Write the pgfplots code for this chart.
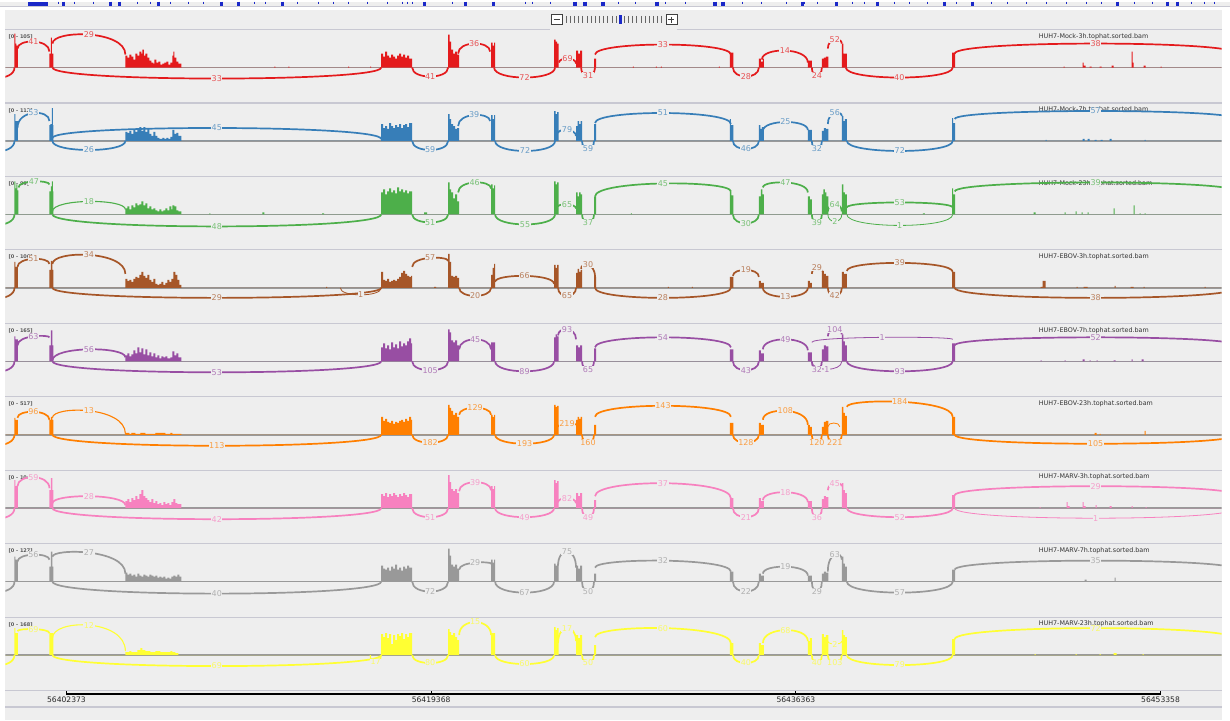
\documentclass[border=0pt]{standalone}
\usepackage{pgfplots}
\pgfplotsset{compat=1.18}
\usepackage{fontspec}
\setmainfont{DejaVu Sans}
\definecolor{bg}{HTML}{EEEEEE}
\definecolor{sepcol}{HTML}{C8C8D2}
\definecolor{basecol}{HTML}{999999}
\definecolor{cRed}{HTML}{E41A1C}
\definecolor{cBlue}{HTML}{377EB8}
\definecolor{cGreen}{HTML}{4DAF4A}
\definecolor{cBrown}{HTML}{A65628}
\definecolor{cPurple}{HTML}{984EA3}
\definecolor{cOrange}{HTML}{FF7F00}
\definecolor{cPink}{HTML}{F781BF}
\definecolor{cGray}{HTML}{999999}
\definecolor{cYellow}{HTML}{FFFF33}
\definecolor{ideo}{HTML}{1A28C8}
\colorlet{tc}{cRed}
\tikzset{
  arcline/.style={draw=tc, line width=1.7pt},
  midarc/.style={draw=tc, line width=1.1pt},
  thinarc/.style={draw=tc, line width=0.8pt},
  arclabel/.style={font=\fontsize{8}{8}\selectfont, text=tc!72!bg, fill=bg, inner sep=0.5pt},
  rangelab/.style={font=\fontsize{5}{5}\selectfont\bfseries, text=black!65, anchor=west, inner sep=0pt},
  namelab/.style={font=\fontsize{6.4}{6.4}\selectfont, text=black!80, anchor=west, inner sep=0pt},
}
\pgfplotsset{track/.style={at={(5pt,-#1pt)}, anchor=north west, scale only axis,
  width=1217pt, height=73.5pt, xmin=5, xmax=1222, ymin=-35.5, ymax=38, hide axis, clip=true}}
% top arc: [style]{x1}{y1}{x2}{y2}{peak}{label}
\newcommand{\tarc}[7][arcline]{%
  \draw[#1] (axis cs:#2,#3) .. controls (axis cs:#2,{(#6-(#3+#5)/8)/0.75}) and (axis cs:#4,{(#6-(#3+#5)/8)/0.75}) .. (axis cs:#4,#5);
  \node[arclabel] at (axis cs:{(#2+#4)/2},#6) {#7};}
% bottom arc: [style]{x1}{x2}{depth}{label}
\newcommand{\barc}[5][arcline]{%
  \draw[#1] (axis cs:#2,0) .. controls (axis cs:#2,{-(#4)/0.75}) and (axis cs:#3,{-(#4)/0.75}) .. (axis cs:#3,0);
  \node[arclabel] at (axis cs:{(#2+#3)/2},-#4) {#5};}
\newcommand{\trackhead}[2]{%
  \draw[basecol, line width=1.6pt] (axis cs:5,0) -- (axis cs:1222,0);
  \node[rangelab] at (axis cs:8,30.5) {#1};
  \node[namelab] at (axis cs:1039,31) {#2};
  \draw[arcline] (axis cs:-22,0) .. controls (axis cs:-22,-14) and (axis cs:14,-14) .. (axis cs:14,0);}
\begin{document}
\begin{tikzpicture}
% ---------------- frame ----------------
\begin{axis}[at={(0,0)}, anchor=north west, scale only axis, width=1230pt, height=719pt,
  xmin=0, xmax=1230, ymin=0, ymax=719, y dir=reverse, hide axis, clip=false]
\fill[white] (axis cs:0,0) rectangle (axis cs:1230,719);
\fill[bg] (axis cs:0,0) rectangle (axis cs:1230,4.2);
\fill[bg] (axis cs:5,8.5) rectangle (axis cs:1222,719);
\draw[sepcol, line width=1pt] (axis cs:0,4.6) -- (axis cs:1230,4.6);
\addplot[ideo, ycomb, line width=0.9pt, mark=none] coordinates {
 (58,2.5)(74,2.5)(93,2.5)(137,2.5)(150,2.5)(170,2.5)(188,2.5)(203,2.5)(254,2.5)(265,2.5)(297,2.5)(318,2.5)(333,2.5)(348,2.5)(367,2.5)(387,2.5)(407,2.5)
 (402,2.5)(412,2.5)(452,2.5)(525,2.5)(532,2.5)(550,2.5)(618,2.5)(635,2.5)(665,2.5)(685,2.5)(743,2.5)(762,2.5)(787,2.5)
 (805,2.5)(818,2.5)(853,2.5)(865,2.5)(895,2.5)(910,2.5)(928,2.5)(957,2.5)(992,2.5)(1008,2.5)(1027,2.5)(1047,2.5)(1067,2.5)(1087,2.5)(1102,2.5)(1135,2.5)(1153,2.5)(1192,2.5)(1205,2.5)(1215,2.5)};
\addplot[ideo, ycomb, line width=3.2pt, mark=none] coordinates {
 (63,4)(110,4)(119,4)(158,4)(221,4)(238,4)(282,4)(424,4)(465,4)(493,4)(575,4)(585,4)(603,4)(657,4)(715,4)(723,4)(803,4)
 (837,4)(878,4)(945,4)(973,4)(1118,4)(1168,4)(1178,4)};
\fill[ideo] (axis cs:28,0) rectangle (axis cs:48,4.2);
% zoom widget
\draw[black!75, fill=white, line width=0.7pt] (axis cs:551,13) rectangle (axis cs:562,23);
\draw[black!75, line width=0.8pt] (axis cs:553.5,18) -- (axis cs:559.5,18);
\draw[black!75, fill=white, line width=0.7pt] (axis cs:666,13) rectangle (axis cs:677,23);
\draw[black!75, line width=0.8pt] (axis cs:668.5,18) -- (axis cs:674.5,18) (axis cs:671.5,15) -- (axis cs:671.5,21);
\addplot[only marks, mark=|, mark size=3.6pt, mark options={draw=black!60, line width=0.8pt}] coordinates {
 (566,18)(570.2,18)(574.4,18)(578.5,18)(582.7,18)(586.9,18)(591,18)(595.2,18)(599.4,18)(603.5,18)(607.7,18)(611.9,18)(616,18)
 (624.4,18)(628.5,18)(632.7,18)(636.9,18)(641,18)(645.2,18)(649.4,18)(653.5,18)(657.7,18)(661.9,18)};
\fill[ideo] (axis cs:618.5,13.5) rectangle (axis cs:621.8,22.5);
% separators
\draw[sepcol, line width=1.1pt] (axis cs:5,28) -- (axis cs:550,28) (axis cs:677,28) -- (axis cs:1222,28);
\draw[sepcol, line width=1.1pt] (axis cs:5,101.5) -- (axis cs:1222,101.5);
\draw[sepcol, line width=1.1pt] (axis cs:5,175) -- (axis cs:1222,175);
\draw[sepcol, line width=1.1pt] (axis cs:5,248.5) -- (axis cs:1222,248.5);
\draw[sepcol, line width=1.1pt] (axis cs:5,322) -- (axis cs:1222,322);
\draw[sepcol, line width=1.1pt] (axis cs:5,395.5) -- (axis cs:1222,395.5);
\draw[sepcol, line width=1.1pt] (axis cs:5,469) -- (axis cs:1222,469);
\draw[sepcol, line width=1.1pt] (axis cs:5,542.5) -- (axis cs:1222,542.5);
\draw[sepcol, line width=1.1pt] (axis cs:5,616) -- (axis cs:1222,616);
\draw[sepcol, line width=1.1pt] (axis cs:5,689) -- (axis cs:1222,689);
\draw[sepcol, line width=1.1pt] (axis cs:5,706) -- (axis cs:1222,706);
\end{axis}
% ---------------- ruler ----------------
\begin{axis}[at={(66pt,-693pt)}, anchor=south west, scale only axis, width=1095pt, height=3.5pt,
  xmin=66, xmax=1161, ymin=0, ymax=1, axis x line*=bottom, axis y line=none,
  x axis line style={-, black, line width=1.1pt}, xtick={66,431,796,1161},
  xticklabels={56402373,56419368,56436363,56453358}, tick align=inside, major tick length=3.5pt,
  xtick style={black, line width=1pt},
  xticklabel style={font=\fontsize{7.6}{7.6}\selectfont, text=black!85, inner sep=0pt, yshift=-2.2pt}]
\end{axis}
% ---------------- track 1 ----------------
\colorlet{tc}{cRed}
\begin{axis}[track=28]
\trackhead{[0 - 105]}{HUH7-Mock-3h.tophat.sorted.bam}
\addplot[const plot, fill=tc, draw=none] coordinates {(5,0)
 (14,34)(15,24)(16,22)(17.5,0)
 (49,14)(50.5,30)(51.5,14)(53,0)
 (125,12)(127,10)(129,13)(131,11)(133,8)(135,14)(137,12)(139,16)(141,14)(142,18)(143.5,12)(145,14)(147,10)(149,7)(151,5)(153,4)(154,8)(156,5)(158,6)(160,3)(162,4)(164,5)(166,6)(168,3)(170,5)(172,12)(173,16)(174,10)(176,6)(178,4)(181,0)
 (274,1)(275,0)(288,1)(289,0)(348,1)(349,0)(370,1)(371,0)
 (381,14)(383,11)(385,16)(387,12)(389,10)(391,13)(393,11)(395,9)(397,12)(399,14)(401,11)(403,13)(405,10)(407,12)(409,9)(412,0)
 (448,33)(449.5,26)(451,18)(453,14)(455,16)(457,13)(459,0)
 (491,25)(492.5,22)(494,25)(495,0)
 (554,28)(555.5,26)(557,24)(558.5,0)
 (576,17)(578,14)(580,17)(582,0)
 (594,9)(596,0)
 (633,1)(634,0)(656,1)(657,0)(661,1)(662,0)(719,1)(720,0)
 (730,15)(733.5,0)
 (759,9)(761,6)(763,9)(764,0)
 (808,7)(812,0)
 (822,9)(824,10)(826,11)(828.5,0)
 (842,24)(843.5,14)(847,0)
 (952.5,15)(955.5,0)
 (1064,1)(1065,0)(1083,5)(1084,2)(1086,0)(1090,1)(1092,0)(1100,1)(1102,0)(1112,2)(1114,0)(1132,16)(1133,5)(1134,0)(1144,2)(1146,0)(1161,1)(1162,0)
 (1222,0)} \closedcycle;
\tarc{17}{19}{49}{16}{26}{41}
\tarc{52}{24}{125}{13}{33}{29}
\tarc{458}{14}{490}{16}{24}{36}
\tarc{559}{5}{576}{4}{9}{69}
\tarc{595}{13}{731}{13}{23}{33}
\tarc{762}{8}{808}{5}{17}{14}
\tarc{828}{19}{842}{24}{28}{52}
\tarc{955}{14}{1237}{14}{24}{38}
\barc{52}{381}{11}{33}
\barc{412}{448}{9}{41}
\barc{494}{555}{10}{72}
\barc{581}{595}{8}{31}
\barc{733}{759}{9}{28}
\barc{812}{822}{8}{24}
\barc{846}{953}{10}{40}
\end{axis}
% ---------------- track 2 ----------------
\colorlet{tc}{cBlue}
\begin{axis}[track=101.5]
\trackhead{[0 - 112]}{HUH7-Mock-7h.tophat.sorted.bam}
\addplot[const plot, fill=tc, draw=none] coordinates {(5,0)
 (14,27)(15,20)(17.5,0)
 (49,16)(50,17)(51.5,33)(52.5,16)(53,0)
 (125,9)(127,8)(129,10)(131,7)(133,11)(135,9)(137,13)(139,14)(141,10)(143,14)(145,9)(147,12)(149,7)(151,5)(153,9)(155,5)(157,3)(159,2)(162,3)(164,2)(166,3)(168,2)(170,4)(172,11)(174,7)(176,8)(178,5)(181,0)
 (381,17)(383,13)(385,15)(387,12)(389,18)(391,15)(393,13)(395,16)(397,14)(399,17)(401,13)(403,16)(405,17)(407,14)(409,18)(412,0)
 (448,27)(449.5,22)(451,17)(453,15)(455,12)(457,13)(459,0)
 (491,26)(492.5,22)(494,26)(495,0)
 (554,30)(555.5,27)(557,29)(558.5,0)
 (576,15)(577.5,20)(579,17)(580.5,20)(582,0)
 (594,17)(596,0)
 (730,22)(731,16)(733.5,0)
 (759,16)(760.5,12)(762,14)(764,0)
 (808,11)(812,0)
 (822,10)(824,13)(826,12)(828.5,0)
 (842,25)(843.5,20)(845,22)(847,0)
 (952.5,23)(953.5,18)(955.5,0)
 (1046,1)(1047,0)(1083,2)(1085,0)(1088,2)(1090,0)(1095,1)(1097,0)(1101,1)(1103,0)(1110,2)(1112,0)(1145,1)(1146,0)
 (1222,0)} \closedcycle;
\tarc{17}{13}{49}{20}{28}{53}
\tarc{52}{3}{381}{2}{13}{45}
\tarc{458}{15}{490}{20}{26}{39}
\tarc{558}{8}{576}{5}{11}{79}
\tarc{595}{18}{731}{17}{28}{51}
\tarc{763}{10}{808}{11}{19}{25}
\tarc{828}{17}{842}{25}{28}{56}
\tarc{955}{22}{1237}{22}{30}{57}
\barc{52}{125}{9}{26}
\barc{412}{448}{9}{59}
\barc{495}{555}{10}{72}
\barc{582}{594}{8}{59}
\barc{733}{759}{8}{46}
\barc{812}{822}{8}{32}
\barc{847}{953}{10}{72}
\end{axis}
% ---------------- track 3 ----------------
\colorlet{tc}{cGreen}
\begin{axis}[track=175]
\trackhead{[0 - 99]}{HUH7-Mock-23h.tophat.sorted.bam}
\addplot[const plot, fill=tc, draw=none] coordinates {(5,0)
 (14,33)(15,26)(16,30)(17,24)(18,0)
 (49,23)(50.5,28)(51.5,33)(52.5,23)(53,0)
 (125,6)(127,8)(129,5)(131,9)(133,7)(135,11)(137,9)(139,10)(141,13)(143,9)(145,11)(147,6)(149,8)(151,5)(153,6)(155,4)(157,3)(159,5)(161,3)(163,4)(165,6)(167,4)(169,8)(171,5)(172,9)(174,8)(176,4)(178,3)(181,0)
 (209,1)(210,0)(262,2)(264,0)(322,1)(324,0)
 (381,22)(383,25)(385,20)(387,23)(389,26)(391,22)(393,24)(395,21)(397,27)(399,23)(401,25)(403,22)(405,24)(407,21)(409,23)(412,0)
 (424,2)(427,0)
 (448,32)(449.5,25)(451,22)(453,16)(455,20)(457,13)(459,0)
 (491,30)(492.5,26)(494,29)(495,0)
 (554,33)(555.5,30)(557,32)(558.5,0)
 (576,22)(577.5,18)(579,22)(580.5,20)(582,0)
 (594,18)(596,0)
 (631,1)(632,0)
 (730,23)(731.5,19)(733.5,0)
 (759,18)(761,25)(762.5,20)(764,0)
 (808,18)(810,15)(812,0)
 (822,20)(823.5,25)(825,22)(826.5,18)(828.5,0)
 (842,30)(843.5,22)(845,20)(847,0)
 (923,1)(925,0)
 (952.5,26)(953.5,20)(955.5,0)
 (1034,2)(1036,0)(1065,2)(1066,0)(1076,3)(1077,0)(1082,2)(1083,0)(1088,2)(1089,0)(1114,6)(1115,0)(1134,9)(1135,0)(1140,1)(1141,0)(1145,1)(1146,0)
 (1222,0)} \closedcycle;
\tarc{18}{27}{49}{30}{33}{47}
\tarc[midarc]{52}{3}{125}{5}{13}{18}
\tarc{458}{22}{491}{26}{32}{46}
\tarc{558}{8}{576}{6}{10}{65}
\tarc{595}{18}{731}{23}{31}{45}
\tarc{763}{27}{808}{22}{32}{47}
\tarc{828}{3}{842}{3}{10}{64}
\tarc{847}{7}{953}{7}{12}{53}
\tarc{955}{23}{1237}{23}{32}{39}
\barc{52}{381}{12}{48}
\barc{412}{448}{8}{51}
\barc{495}{555}{10}{55}
\barc{582}{594}{8}{37}
\barc{733}{759}{9}{30}
\barc{812}{822}{8}{39}
\barc[thinarc]{828}{842}{7}{2}
\barc[thinarc]{847}{953}{11}{1}
\end{axis}
% ---------------- track 4 ----------------
\colorlet{tc}{cBrown}
\begin{axis}[track=248.5]
\trackhead{[0 - 106]}{HUH7-EBOV-3h.tophat.sorted.bam}
\addplot[const plot, fill=tc, draw=none] coordinates {(5,0)
 (14,26)(15,21)(17.5,0)
 (49,18)(50.5,27)(52,18)(53,0)
 (125,9)(127,7)(129,8)(131,6)(133,9)(135,11)(137,10)(139,13)(141,16)(143,12)(145,10)(147,13)(149,8)(151,6)(153,9)(155,4)(157,3)(159,4)(161,6)(163,3)(165,5)(167,8)(169,6)(171,9)(173,16)(175,13)(177,8)(179,3)(181,0)
 (326,1)(327,0)
 (381,16)(383,8)(385,7)(387,9)(389,6)(391,7)(393,8)(395,7)(397,9)(399,11)(401,15)(403,17)(405,14)(407,12)(409,11)(411,12)(412,0)
 (434,1)(436,0)
 (448,34)(449.5,26)(451,12)(453,11)(455,12)(457,10)(459,0)
 (491,13)(492.5,20)(494,24)(495,0)
 (554,23)(555.5,20)(557,23)(558.5,0)
 (576,15)(577.5,19)(579,16)(580.5,18)(582,0)
 (594,11)(596,0)
 (668,1)(669,0)(692,1)(693,0)
 (730,11)(733.5,0)
 (759,7)(761,5)(764,0)
 (808,7)(810,5)(812,0)
 (822,17)(824,14)(826,12)(828.5,0)
 (842,16)(844,14)(847,0)
 (952.5,16)(955.5,0)
 (1041,1)(1043,7)(1046,0)(1077,1)(1078,0)(1084,1)(1088,0)(1115,2)(1116,0)(1131,1)(1134,0)(1144,1)(1145,0)(1205,1)(1206,0)
 (1222,0)} \closedcycle;
\tarc{17}{21}{49}{24}{29}{51}
\tarc{52}{24}{125}{14}{33}{34}
\tarc{412}{21}{448}{27}{30}{57}
\tarc{495}{6}{554}{4}{12}{66}
\tarc{581}{19}{595}{11}{23}{30}
\tarc{733}{12}{759}{11}{18}{19}
\tarc{812}{14}{822}{17}{20}{29}
\tarc{847}{17}{953}{16}{25}{39}
\barc{52}{381}{10}{29}
\barc[thinarc]{340}{381}{7}{1}
\barc{459}{491}{8}{20}
\barc{558}{576}{8}{65}
\barc{595}{731}{10}{28}
\barc{763}{808}{9}{13}
\barc{828}{842}{8}{42}
\barc{955}{1237}{10}{38}
\end{axis}
% ---------------- track 5 ----------------
\colorlet{tc}{cPurple}
\begin{axis}[track=322]
\trackhead{[0 - 165]}{HUH7-EBOV-7h.tophat.sorted.bam}
\addplot[const plot, fill=tc, draw=none] coordinates {(5,0)
 (14,25)(15,22)(17.5,0)
 (49,16)(50.5,31)(52,16)(53,0)
 (125,6)(127,8)(129,5)(131,7)(133,11)(135,8)(137,14)(139,9)(141,13)(143,7)(145,12)(147,6)(149,9)(151,5)(153,8)(155,4)(157,6)(159,3)(161,5)(163,4)(165,5)(167,3)(170,4)(172,10)(174,6)(176,8)(178,4)(181,0)
 (381,14)(383,18)(385,13)(387,16)(389,12)(391,19)(393,14)(395,17)(397,13)(399,20)(401,15)(403,18)(405,16)(407,20)(409,23)(411,18)(412,0)
 (448,32)(449.5,29)(451,21)(453,19)(455,21)(457,16)(459,0)
 (491,19)(495,0)
 (554,24)(555.5,27)(557,25)(558.5,0)
 (576,16)(578,14)(580,16)(582,0)
 (594,13)(596,0)
 (730,12)(733.5,0)
 (759,11)(761,8)(764,0)
 (808,9)(812,0)
 (822,12)(824,16)(826,15)(828.5,0)
 (842,27)(843.5,20)(845,16)(847,0)
 (952.5,18)(955.5,0)
 (1041,1)(1042,0)(1065,1)(1066,0)(1083,2)(1085,0)(1090,1)(1091,0)(1097,1)(1098,0)(1114,1)(1116,0)(1132,2)(1133,0)(1142,2)(1144,0)
 (1222,0)} \closedcycle;
\tarc{17}{16}{49}{24}{25}{63}
\tarc{52}{1}{125}{4}{12}{56}
\tarc{459}{12}{491}{12}{22}{45}
\tarc{558}{26}{576}{22}{32}{93}
\tarc{595}{14}{731}{14}{24}{54}
\tarc{763}{12}{808}{11}{22}{49}
\tarc[thinarc]{812}{19}{953}{22}{24}{1}
\tarc{828}{25}{842}{27}{32}{104}
\tarc{955}{16}{1237}{16}{24}{52}
\barc{52}{381}{11}{53}
\barc{412}{448}{9}{105}
\barc{495}{554}{10}{89}
\barc{582}{594}{8}{65}
\barc{733}{759}{9}{43}
\barc[thinarc]{812}{842}{8}{1}
\barc{812}{822}{8}{32}
\barc{847}{953}{10}{93}
\end{axis}
% ---------------- track 6 ----------------
\colorlet{tc}{cOrange}
\begin{axis}[track=395.5]
\trackhead{[0 - 517]}{HUH7-EBOV-23h.tophat.sorted.bam}
\addplot[const plot, fill=tc, draw=none] coordinates {(5,0)
 (14,17)(15,15)(17.5,0)
 (49,15)(50.5,18)(52,15)(53,0)
 (125,2)(129,1)(131,2)(135,1)(140,2)(145,1)(150,1)(155,2)(165,1)(170,2)(172,1)(175,1)(181,0)
 (381,18)(383,14)(385,16)(387,13)(389,12)(391,14)(393,11)(395,13)(397,12)(399,14)(401,15)(403,13)(405,16)(407,14)(409,18)(411,15)(412,0)
 (448,30)(449.5,27)(451,24)(453,20)(455,22)(457,18)(459,0)
 (491,20)(492.5,18)(494,20)(495,0)
 (554,30)(555.5,28)(557,29)(558.5,0)
 (576,15)(577.5,18)(579,16)(580.5,18)(582,0)
 (594,10)(596,0)
 (730,12)(733.5,0)
 (759,12)(761,10)(764,0)
 (808,10)(810,8)(812,0)
 (822,8)(824,13)(826,14)(828.5,0)
 (842,28)(843.5,22)(845,19)(847,0)
 (952.5,18)(955.5,0)
 (1095,2)(1097,0)(1100,1)(1101,0)(1145,4)(1146,0)
 (1222,0)} \closedcycle;
\tarc{17}{17}{49}{15}{23}{96}
\tarc[midarc]{52}{17}{125}{1}{24}{13}
\tarc{459}{20}{491}{20}{27}{129}
\tarc{558}{8}{576}{10}{11}{219}
\tarc{595}{18}{731}{18}{29}{143}
\tarc{763}{15}{808}{10}{24}{108}
\draw[thinarc] (axis cs:828,8) .. controls (axis cs:828,13) and (axis cs:840,13) .. (axis cs:840,8);
\tarc{847}{28}{953}{18}{33}{184}
\barc{52}{381}{11}{113}
\barc{412}{448}{8}{182}
\barc{495}{554}{9}{193}
\barc{582}{594}{8}{160}
\barc{733}{759}{8}{128}
\barc{812}{822}{8}{120}
\barc{828}{842}{8}{221}
\barc{955}{1237}{9}{105}
\end{axis}
% ---------------- track 7 ----------------
\colorlet{tc}{cPink}
\begin{axis}[track=469]
\trackhead{[0 - 104]}{HUH7-MARV-3h.tophat.sorted.bam}
\addplot[const plot, fill=tc, draw=none] coordinates {(5,0)
 (14,28)(15,22)(17.5,0)
 (49,18)(50.5,30)(52,18)(53,0)
 (125,7)(127,9)(129,6)(131,10)(133,8)(135,12)(137,9)(139,14)(141,18)(143,12)(145,10)(147,8)(149,6)(151,9)(153,5)(155,7)(157,4)(159,5)(161,3)(163,6)(165,4)(167,5)(169,3)(171,6)(173,9)(175,5)(177,4)(181,0)
 (381,14)(383,12)(385,15)(387,11)(389,14)(391,12)(393,15)(395,13)(397,11)(399,14)(401,12)(403,15)(405,13)(407,11)(409,14)(412,0)
 (448,33)(449.5,26)(451,19)(453,17)(455,19)(457,15)(459,0)
 (491,22)(492.5,19)(494,22)(495,0)
 (554,28)(555.5,25)(557,27)(558.5,0)
 (576,15)(578,12)(580,15)(582,0)
 (594,8)(596,0)
 (730,10)(733.5,0)
 (759,10)(761,7)(764,0)
 (808,7)(812,0)
 (822,9)(824,12)(826,11)(828.5,0)
 (842,25)(843.5,18)(845,15)(847,0)
 (952.5,13)(955.5,0)
 (1040,1)(1041,0)(1067,6)(1068,2)(1070,0)(1083,6)(1084,2)(1086,0)(1096,3)(1097,0)(1110,2)(1112,0)(1132,2)(1133,0)(1146,1)(1147,0)
 (1222,0)} \closedcycle;
\tarc{17}{22}{49}{20}{31}{59}
\tarc{52}{5}{125}{3}{12}{28}
\tarc{459}{17}{491}{18}{26}{39}
\tarc{558}{6}{576}{5}{10}{82}
\tarc{595}{12}{731}{10}{25}{37}
\tarc{763}{8}{808}{6}{16}{18}
\tarc{828}{18}{842}{22}{25}{45}
\tarc{955}{13}{1237}{13}{22}{29}
\barc{52}{381}{11}{42}
\barc{412}{448}{9}{51}
\barc{495}{554}{9}{49}
\barc{582}{594}{9}{49}
\barc{733}{759}{9}{21}
\barc{812}{822}{9}{36}
\barc{847}{953}{9}{52}
\barc[thinarc]{955}{1237}{10}{1}
\end{axis}
% ---------------- track 8 ----------------
\colorlet{tc}{cGray}
\begin{axis}[track=542.5]
\trackhead{[0 - 127]}{HUH7-MARV-7h.tophat.sorted.bam}
\addplot[const plot, fill=tc, draw=none] coordinates {(5,0)
 (14,25)(15,22)(17.5,0)
 (49,15)(50.5,30)(52,15)(53,0)
 (125,9)(127,7)(129,8)(131,6)(133,7)(135,5)(137,8)(139,6)(141,5)(143,7)(145,6)(147,5)(149,7)(151,6)(153,5)(155,6)(157,4)(159,5)(161,4)(163,5)(165,3)(167,4)(169,3)(171,5)(173,6)(175,5)(177,7)(179,5)(181,0)
 (381,16)(383,13)(385,12)(387,14)(389,11)(391,15)(393,13)(395,17)(397,12)(399,14)(401,11)(403,15)(405,13)(407,16)(409,14)(412,0)
 (448,33)(449.5,26)(451,17)(453,15)(455,17)(457,13)(459,0)
 (491,22)(492.5,19)(494,22)(495,0)
 (554,18)(555.5,16)(557,18)(558.5,0)
 (576,16)(578,13)(580,16)(582,0)
 (594,8)(596,0)
 (730,10)(733.5,0)
 (759,8)(761,6)(764,0)
 (808,6)(812,0)
 (822,8)(824,10)(826,9)(828.5,0)
 (842,25)(843.5,18)(845,15)(847,0)
 (952.5,12)(955.5,0)
 (1085,2)(1087,0)(1115,4)(1116,0)
 (1222,0)} \closedcycle;
\tarc{17}{20}{49}{22}{27}{56}
\tarc{52}{25}{125}{8}{29}{27}
\tarc{459}{12}{491}{18}{19}{29}
\tarc{558}{16}{576}{14}{30}{75}
\tarc{595}{14}{731}{10}{21}{32}
\tarc{763}{8}{808}{6}{15}{19}
\tarc{828}{10}{842}{22}{27}{63}
\tarc{955}{12}{1237}{12}{21}{35}
\barc{52}{381}{12}{40}
\barc{412}{448}{10}{72}
\barc{495}{554}{11}{67}
\barc{582}{594}{10}{50}
\barc{733}{759}{10}{22}
\barc{812}{822}{10}{29}
\barc{847}{953}{11}{57}
\end{axis}
% ---------------- track 9 ----------------
\colorlet{tc}{cYellow}
\begin{axis}[track=616]
\trackhead{[0 - 168]}{HUH7-MARV-23h.tophat.sorted.bam}
\addplot[const plot, fill=tc, draw=none] coordinates {(5,0)
 (14,27)(15,22)(17.5,0)
 (49,22)(53,0)
 (125,3)(129,4)(131,3)(137,5)(140,7)(142,5)(145,4)(150,3)(155,4)(160,3)(165,3)(170,4)(172,3)(175,2)(178,0)
 (381,21)(383,18)(385,22)(387,17)(389,21)(391,11)(393,20)(395,15)(397,21)(399,19)(401,22)(403,16)(405,21)(407,18)(409,22)(412,0)
 (448,26)(449.5,23)(451,20)(453,22)(455,18)(457,15)(459,0)
 (491,22)(495,0)
 (554,28)(555.5,25)(557,27)(558.5,0)
 (576,20)(578,17)(580,20)(582,0)
 (594,10)(596,0)
 (730,12)(733.5,0)
 (759,12)(761,10)(764,0)
 (808,14)(810,17)(812,0)
 (822,21)(824,18)(826,20)(828.5,0)
 (842,25)(843.5,20)(845,18)(847,0)
 (952.5,16)(955.5,0)
 (1035,1)(1036,0)(1076,1)(1077,0)(1100,1)(1101,0)(1114,2)(1117,0)(1143,1)(1144,0)
 (1222,0)} \closedcycle;
\tarc{17}{24}{49}{22}{26}{69}
\tarc[midarc]{52}{17}{125}{4}{30}{12}
\tarc{459}{20}{491}{20}{33}{15}
\tarc{558}{12}{576}{14}{27}{17}
\tarc{595}{18}{731}{12}{27}{60}
\tarc{763}{12}{808}{14}{25}{68}
\tarc[thinarc]{828}{14}{842}{14}{11}{2}
\tarc{955}{16}{1237}{16}{27}{72}
\barc{52}{381}{11}{69}
\barc[midarc]{370}{381}{7}{17}
\barc{412}{448}{8}{80}
\barc{495}{554}{9}{60}
\barc{582}{594}{8}{50}
\barc{733}{759}{8}{40}
\barc{812}{822}{8}{40}
\barc{828}{842}{8}{103}
\barc{847}{953}{10}{79}
\end{axis}
\end{tikzpicture}
\end{document}
